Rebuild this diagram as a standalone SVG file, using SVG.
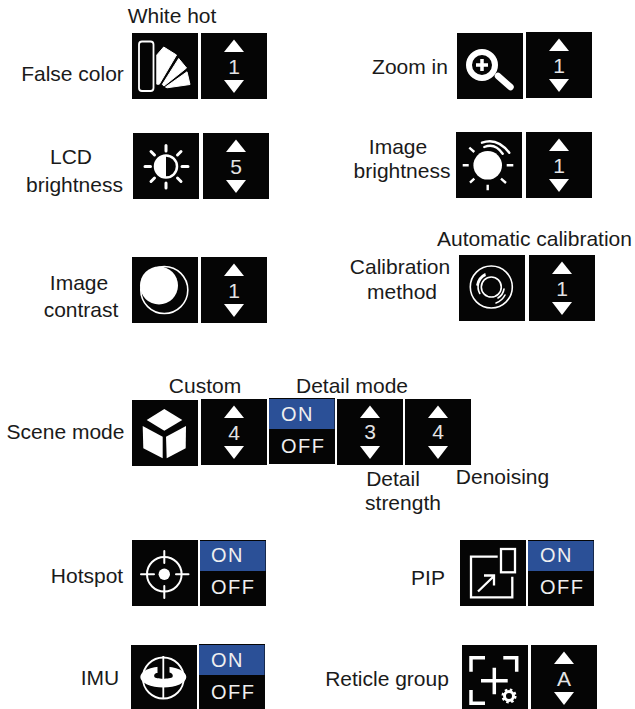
<svg xmlns="http://www.w3.org/2000/svg" width="635" height="709" viewBox="0 0 635 709">
<style>
.bg{fill:#050505}
.lb{font-family:"Liberation Sans",Arial,sans-serif;font-size:21px;fill:#1a1a1a;text-anchor:middle}
.num{font-family:"Liberation Sans",Arial,sans-serif;font-size:21px;fill:#e4e4e4;text-anchor:middle}
.sw{font-family:"Liberation Sans",Arial,sans-serif;font-size:20px;fill:#efefef;letter-spacing:1.5px}
.w{fill:#fff}
.bl{fill:#fff;stroke:#fff;stroke-width:1;stroke-linejoin:round}
.ln{fill:none;stroke:#fff;stroke-width:2;stroke-linecap:round;stroke-linejoin:round}
.ray{fill:none;stroke:#fff;stroke-width:3;stroke-linecap:round}
.thin{fill:none;stroke:#fff;stroke-width:1.600;stroke-linecap:round}
.blue{fill:#2b5097}
</style>
<defs>
<g id="spin"><rect class="bg" width="66" height="66"/><path class="w" d="M33 6.500L43 19H23Z"/><path class="w" d="M23 47H43L33 60Z"/></g>
<g id="sw"><rect class="bg" width="66" height="66"/><rect class="blue" y="1" width="65.500" height="30"/></g>
</defs>
<g id="false-color">
<text class="lb" x="72.500" y="81">False color</text><text class="lb" x="172" y="23">White hot</text>
<rect class="bg" x="132" y="33" width="66" height="66"/>
<rect x="139" y="41.500" width="14.500" height="49.500" rx="3" fill="none" stroke="#fff" stroke-width="1.800"/>
<path class="bl" d="M156.800 55L163.700 47L176.500 55L159.300 84.200L156.800 84.200Z"/><path class="bl" d="M162.300 84.500L178.700 58.500L186.500 68L164 86Z"/><path class="bl" d="M165.500 87L187 71.800L190 84.500L167 87.800Z"/>
<use href="#spin" x="201" y="33"/><text class="num" x="234" y="73.500">1</text>
</g>
<g id="lcd-brightness">
<text class="lb" x="71" y="164">LCD</text><text class="lb" x="74.500" y="192">brightness</text>
<rect class="bg" x="133" y="133" width="66" height="66"/>
<circle cx="166" cy="166.500" r="11" fill="none" stroke="#fff" stroke-width="2.500"/><path class="w" d="M166 155.500A11 11 0 0 0 166 177.500Z"/>
<path class="ray" d="M166 145.500V151M166 183V188M145 166.500H150.500M182 166.500H188M151 151.500L154.500 155M177.500 178L181 181.500M181 151.500L177.500 155M154.500 178L151 181.500"/>
<use href="#spin" x="203" y="133"/><text class="num" x="236" y="173.500">5</text>
</g>
<g id="image-contrast">
<text class="lb" x="79" y="290">Image</text><text class="lb" x="81" y="317">contrast</text>
<rect class="bg" x="132" y="257" width="66" height="66"/>
<circle cx="164.300" cy="290" r="23.500" fill="none" stroke="#fff" stroke-width="1.600"/><circle class="w" cx="159" cy="285.500" r="19"/>
<use href="#spin" x="201" y="257"/><text class="num" x="234" y="297.500">1</text>
</g>
<g id="zoom-in">
<text class="lb" x="410" y="74">Zoom in</text>
<rect class="bg" x="457" y="33" width="66" height="66"/>
<circle cx="482" cy="65" r="13" fill="none" stroke="#fff" stroke-width="6"/>
<path d="M476 65H488M482 59V71" stroke="#fff" stroke-width="3.500" fill="none"/>
<path d="M498 76L510.500 87" stroke="#fff" stroke-width="6.500" stroke-linecap="round"/>
<use href="#spin" x="526" y="32"/><text class="num" x="559" y="72.500">1</text>
</g>
<g id="image-brightness">
<text class="lb" x="398" y="154">Image</text><text class="lb" x="402" y="178">brightness</text>
<rect class="bg" x="456" y="132" width="66" height="66"/>
<circle class="w" cx="487.700" cy="165.300" r="14.300"/>
<path class="ray" style="stroke-width:2.400;stroke-linecap:butt" d="M462.700 165.300H468.700M506.700 165.300H513.300M487.700 184.700V190.300M469.300 147.700L474.300 152M501 178.700L506 183M474.300 178.700L470 182.700"/>
<path d="M482 142.700Q497 137 509.300 152.700M484.300 147Q495 142.500 502.700 153.700" fill="none" stroke="#fff" stroke-width="2.400" stroke-linecap="round"/>
<use href="#spin" x="526" y="132"/><text class="num" x="559" y="172.500">1</text>
</g>
<g id="calibration-method">
<text class="lb" x="400" y="274">Calibration</text><text class="lb" x="402" y="299">method</text><text class="lb" x="534.500" y="246">Automatic calibration</text>
<rect class="bg" x="459" y="255" width="66" height="66"/>
<circle cx="491.300" cy="287" r="21" fill="none" stroke="#fff" stroke-width="1.600"/><circle cx="491.300" cy="287" r="10" fill="none" stroke="#fff" stroke-width="1.600"/>
<path class="thin" d="M485.100 275.500A13 13 0 0 0 479.800 293.500M477 285A15 15 0 0 1 485 274M505 295A16 16 0 0 1 496 303M504 289A13 13 0 0 1 498 298"/>
<use href="#spin" x="529" y="255"/><text class="num" x="562" y="295.500">1</text>
</g>
<g id="scene-mode">
<text class="lb" x="65.500" y="439">Scene mode</text><text class="lb" x="205" y="393">Custom</text><text class="lb" x="352" y="393">Detail mode</text>
<text class="lb" x="393" y="486">Detail</text><text class="lb" x="403" y="510">strength</text><text class="lb" x="502.500" y="484">Denoising</text>
<rect class="bg" x="132" y="400" width="66" height="66"/>
<path class="w" d="M146.700 420L164.300 409L182.300 420L164.300 430.700Z"/><path class="w" d="M142.700 426L162.700 436.700V458.300L143.300 448.300Z"/><path class="w" d="M166 436.700L186 426L185.700 448.300L166.700 458.300Z"/>
<use href="#spin" x="201" y="399"/><text class="num" x="234" y="440">4</text>
<use href="#sw" x="269" y="398"/><text class="sw" x="281" y="421">ON</text><text class="sw" x="281" y="453">OFF</text>
<use href="#spin" x="337" y="399"/><text class="num" x="370" y="439">3</text>
<use href="#spin" x="405" y="399"/><text class="num" x="438" y="439">4</text>
</g>
<g id="hotspot">
<text class="lb" x="87" y="583">Hotspot</text>
<rect class="bg" x="132" y="540" width="66" height="66"/>
<circle cx="164.300" cy="574.300" r="17.300" fill="none" stroke="#fff" stroke-width="2"/><circle class="w" cx="164.300" cy="574.300" r="5.700"/>
<path class="ln" d="M141 574.300H154M176 574.300H188.500M164.300 551V563M164.300 586V598"/>
<use href="#sw" x="200" y="540"/><text class="sw" x="211" y="562">ON</text><text class="sw" x="211" y="594">OFF</text>
</g>
<g id="imu">
<text class="lb" x="100" y="685">IMU</text>
<rect class="bg" x="131" y="645" width="66" height="66"/>
<circle cx="163.300" cy="678" r="20.500" fill="none" stroke="#fff" stroke-width="1.800"/>
<ellipse class="w" cx="163.300" cy="677" rx="23" ry="10.500"/>
<path class="bg" d="M157.500 664H169.500V672.500C172 673 173.500 675 172.500 677C171 679 156 679.500 154.500 677C153.500 675 155 673 157.500 673Z"/>
<path d="M163.300 656V679M163.300 687V698" stroke="#fff" stroke-width="1.800" fill="none"/>
<use href="#sw" x="199" y="644"/><text class="sw" x="211" y="667">ON</text><text class="sw" x="211" y="699">OFF</text>
</g>
<g id="pip">
<text class="lb" x="428" y="585">PIP</text>
<rect class="bg" x="460" y="540" width="66" height="66"/>
<path d="M497.700 556.700H471V597.300H512.300V576.700" fill="none" stroke="#fff" stroke-width="2.300"/>
<rect x="501" y="549" width="14" height="23.300" fill="none" stroke="#fff" stroke-width="2.300"/>
<path d="M478 591.500L493 577M484 575.500H494V585.500" fill="none" stroke="#fff" stroke-width="2.300"/>
<use href="#sw" x="528" y="540"/><text class="sw" x="540" y="562">ON</text><text class="sw" x="540" y="594">OFF</text>
</g>
<g id="reticle-group">
<text class="lb" x="387" y="686">Reticle group</text>
<rect class="bg" x="462" y="645" width="66" height="66"/>
<path d="M471 671.700V657.700H485M503.300 657.700H516.700V671.700M471 690V703.300H485" fill="none" stroke="#fff" stroke-width="3.500"/>
<path d="M481 680.700H507.700M494.300 667.700V694.300" fill="none" stroke="#fff" stroke-width="3.500"/>
<circle cx="509" cy="696" r="4.500" fill="none" stroke="#fff" stroke-width="3"/><circle cx="509" cy="696" r="6.300" fill="none" stroke="#fff" stroke-width="2.500" stroke-dasharray="2.500 2.450"/>
<use href="#spin" x="531" y="645"/><text class="num" x="564" y="686">A</text>
</g>
</svg>
